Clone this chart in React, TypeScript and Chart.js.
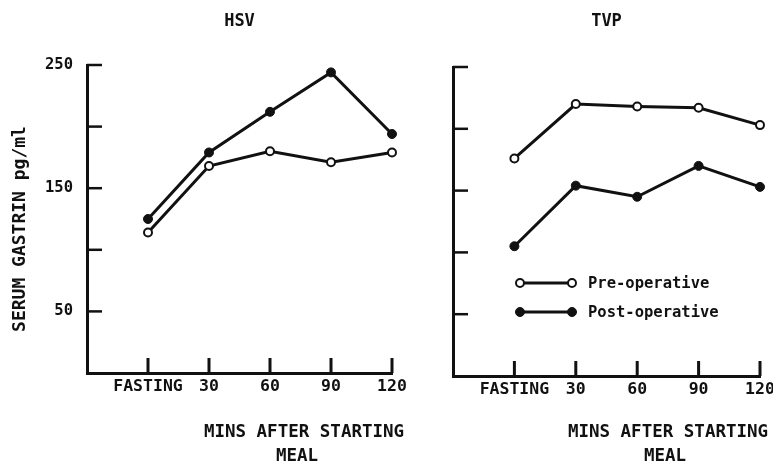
import React, { useEffect, useRef } from 'react';
import { Chart, registerables } from 'chart.js';

Chart.register(...registerables);

// ---- data ----
const minutes = [0, 30, 60, 90, 120];
const xTickLabels = ['FASTING', '30', '60', '90', '120'];
const yLabeledTicks = [50, 150, 250];
const panelTitles = ['HSV', 'TVP'];
const seriesNames = ['Pre-operative', 'Post-operative'];
const hsvPre = [114, 168, 180, 171, 179];
const hsvPost = [125, 179, 212, 244, 194];
const tvpPre = [176, 220, 218, 217, 203];
const tvpPost = [105, 154, 145, 170, 153];
const yAxisTitle = 'SERUM GASTRIN pg/ml';
const xAxisTitleLines = ['MINS AFTER STARTING', 'MEAL'];

const INK = '#111';
const FONT = "'DejaVu Sans Mono', monospace";

type PanelCfg = {
  title: string;
  pre: number[];
  post: number[];
  canvasW: number;
  canvasH: number;
  yWidth: number;
  xHeight: number;
  padRight: number;
  titlePadBottom: number;
  showYLabels: boolean;
  showYTitle: boolean;
  showLegend: boolean;
  xTitleDx: [number, number];
  xTitleY: [number, number];
};

function toPoints(vals: number[]) {
  return minutes.map((m, i) => ({ x: m, y: vals[i] }));
}

function makeDecor(cfg: PanelCfg) {
  return {
    id: 'decor',
    afterDraw(chart: any) {
      const { ctx, chartArea: a, scales } = chart;
      const xs = scales.x;
      const ys = scales.y;
      ctx.save();
      ctx.strokeStyle = INK;
      ctx.lineWidth = 2.5;
      // inward tick marks
      ys.ticks.forEach((t: any) => {
        if (t.value <= ys.min) return;
        const py = ys.getPixelForValue(t.value);
        ctx.beginPath();
        ctx.moveTo(a.left, py);
        ctx.lineTo(a.left + 15, py);
        ctx.stroke();
      });
      ctx.lineWidth = 3;
      xs.ticks.forEach((t: any) => {
        if (t.value <= xs.min) return;
        const px = xs.getPixelForValue(t.value);
        ctx.beginPath();
        ctx.moveTo(px, a.bottom);
        ctx.lineTo(px, a.bottom - 15);
        ctx.stroke();
      });
      // x axis title
      ctx.fillStyle = INK;
      ctx.font = `bold 17.5px ${FONT}`;
      ctx.textAlign = 'center';
      ctx.textBaseline = 'middle';
      ctx.fillText(xAxisTitleLines[0], a.right + cfg.xTitleDx[0], cfg.xTitleY[0]);
      ctx.fillText(xAxisTitleLines[1], a.right + cfg.xTitleDx[1], cfg.xTitleY[1]);
      // y axis title
      if (cfg.showYTitle) {
        ctx.save();
        ctx.font = `bold 18px ${FONT}`;
        ctx.translate(20, (a.top + a.bottom) / 2 + 10);
        ctx.rotate(-Math.PI / 2);
        ctx.fillText(yAxisTitle, 0, 0);
        ctx.restore();
      }
      // legend
      if (cfg.showLegend) {
        chart.data.datasets.forEach((ds: any, i: number) => {
          const ly = a.top + 216 + i * 29;
          const x0 = a.left + 67;
          const x1 = a.left + 119;
          ctx.strokeStyle = INK;
          ctx.lineWidth = 3;
          ctx.beginPath();
          ctx.moveTo(x0, ly);
          ctx.lineTo(x1, ly);
          ctx.stroke();
          [x0, x1].forEach((cx) => {
            ctx.beginPath();
            ctx.arc(cx, ly, ds.pointRadius, 0, Math.PI * 2);
            ctx.fillStyle = ds.pointBackgroundColor;
            ctx.fill();
            ctx.lineWidth = ds.pointBorderWidth;
            ctx.strokeStyle = INK;
            ctx.stroke();
          });
          ctx.fillStyle = INK;
          ctx.font = `bold 15.5px ${FONT}`;
          ctx.textAlign = 'left';
          ctx.textBaseline = 'middle';
          ctx.fillText(ds.label, a.left + 135, ly + 1);
        });
      }
      ctx.restore();
    },
  };
}

function Panel({ cfg, left }: { cfg: PanelCfg; left: number }) {
  const ref = useRef<HTMLCanvasElement | null>(null);
  useEffect(() => {
    if (!ref.current) return;
    const chart = new Chart(ref.current, {
      type: 'line',
      data: {
        datasets: [
          {
            label: seriesNames[0],
            data: toPoints(cfg.pre),
            borderColor: INK,
            borderWidth: 3,
            pointRadius: 4,
            pointBorderWidth: 2,
            pointBackgroundColor: '#fff',
            pointBorderColor: INK,
            tension: 0,
            clip: false as any,
          },
          {
            label: seriesNames[1],
            data: toPoints(cfg.post),
            borderColor: INK,
            borderWidth: 3,
            pointRadius: 4.5,
            pointBorderWidth: 1,
            pointBackgroundColor: INK,
            pointBorderColor: INK,
            tension: 0,
            clip: false as any,
          },
        ],
      },
      options: {
        responsive: false,
        animation: false,
        events: [],
        layout: { padding: { left: 0, right: cfg.padRight, top: 0, bottom: 0 } },
        plugins: {
          legend: { display: false },
          tooltip: { enabled: false },
          title: {
            display: true,
            text: cfg.title,
            fullSize: false,
            color: INK,
            font: { family: FONT, size: 17, weight: 'bold', lineHeight: 1.2 },
            padding: { top: 11, bottom: cfg.titlePadBottom },
          },
        },
        scales: {
          x: {
            type: 'linear',
            min: -30,
            max: 120,
            grid: { display: false },
            border: { display: true, color: INK, width: 3 },
            ticks: {
              stepSize: 30,
              autoSkip: false,
              maxRotation: 0,
              padding: -4,
              color: INK,
              font: { family: FONT, size: 16.5, weight: 'bold', lineHeight: 1.2 },
              callback: (v: any) => {
                const i = minutes.indexOf(Number(v));
                return i >= 0 ? xTickLabels[i] : '';
              },
            },
            afterFit: (s: any) => {
              s.height = cfg.xHeight;
              s.paddingLeft = 0;
              s.paddingRight = 0;
            },
          },
          y: {
            type: 'linear',
            min: 0,
            max: 250,
            grid: { display: false },
            border: { display: true, color: INK, width: 3 },
            ticks: {
              display: cfg.showYLabels,
              stepSize: 50,
              padding: 6,
              color: INK,
              font: { family: FONT, size: 15.5, weight: 'bold' },
              callback: (v: any) => (yLabeledTicks.includes(Number(v)) ? String(v) : ''),
            },
            afterFit: (s: any) => {
              s.width = cfg.yWidth;
            },
          },
        },
      },
      plugins: [makeDecor(cfg)],
    });
    return () => chart.destroy();
  }, [cfg]);
  return (
    <canvas
      ref={ref}
      width={cfg.canvasW}
      height={cfg.canvasH}
      style={{ position: 'absolute', left, top: 0, width: cfg.canvasW, height: cfg.canvasH }}
    />
  );
}

const leftCfg: PanelCfg = {
  title: panelTitles[0],
  pre: hsvPre,
  post: hsvPost,
  canvasW: 430,
  canvasH: 464,
  yWidth: 87,
  xHeight: 91,
  padRight: 38,
  titlePadBottom: 33.6,
  showYLabels: true,
  showYTitle: true,
  showLegend: false,
  xTitleDx: [-88, -95],
  xTitleY: [432, 456],
};

const rightCfg: PanelCfg = {
  title: panelTitles[1],
  pre: tvpPre,
  post: tvpPost,
  canvasW: 373,
  canvasH: 464,
  yWidth: 53,
  xHeight: 88,
  padRight: 13,
  titlePadBottom: 35.6,
  showYLabels: false,
  showYTitle: false,
  showLegend: true,
  xTitleDx: [-92, -95],
  xTitleY: [432, 456],
};

export default function App() {
  return (
    <div
      style={{
        position: 'fixed',
        left: 0,
        top: 0,
        width: 773,
        height: 464,
        background: '#fff',
        overflow: 'hidden',
      }}
    >
      <Panel cfg={leftCfg} left={0} />
      <Panel cfg={rightCfg} left={400} />
    </div>
  );
}
